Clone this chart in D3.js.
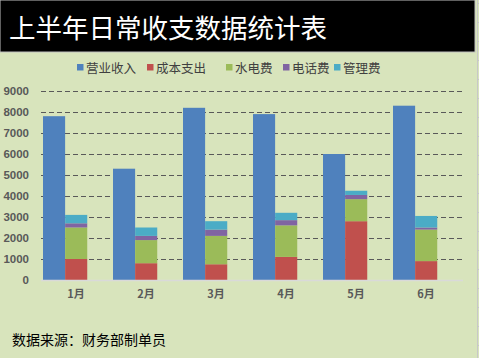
<!DOCTYPE html>
<html><head><meta charset="utf-8">
<script src="https://cdn.jsdelivr.net/npm/d3@7"></script>
<style>html,body{margin:0;padding:0;background:#D8E4BC;}svg{display:block;}</style>
</head><body>
<script>
const months = ["1月","2月","3月","4月","5月","6月"];
const income = [7800, 5300, 8200, 7900, 6000, 8300];
const cost   = [1000,  800,  750, 1100, 2800,  900];
const water  = [1500, 1100, 1350, 1500, 1050, 1500];
const phone  = [ 200,  200,  300,  250,  200,  100];
const mgmt   = [ 400,  400,  400,  350,  200,  550];
const yTicks = [0,1000,2000,3000,4000,5000,6000,7000,8000,9000];
const seriesNames = ["营业收入","成本支出","水电费","电话费","管理费"];
const colors = ["#4F81BD","#C0504D","#9BBB59","#8064A2","#4BACC6"];
const title = "上半年日常收支数据统计表";
const footer = "数据来源：财务部制单员";

const W = 479, H = 358;
const svg = d3.select("body").append("svg").attr("width", W).attr("height", H);
svg.append("rect").attr("width", W).attr("height", H).attr("fill", "#D8E4BC");

// right edge frame line with ticks
svg.append("line").attr("x1", 477.5).attr("x2", 477.5).attr("y1", 0).attr("y2", H)
  .attr("stroke", "#c8c8c8").attr("stroke-width", 1);
d3.range(0, H, 19).forEach(yy => {
  svg.append("line").attr("x1", 477.5).attr("x2", 479).attr("y1", yy + 3.5).attr("y2", yy + 3.5)
    .attr("stroke", "#c8c8c8");
});

// title bar
svg.append("rect").attr("x", 0).attr("y", 0).attr("width", 475).attr("height", 52)
  .attr("fill", "#000").attr("stroke", "#bfbfbf").attr("stroke-width", 1);
svg.append("text").attr("x", 9).attr("y", 38).text(title)
  .attr("fill", "#fff").attr("font-family", "Noto Sans CJK SC").attr("font-size", 26.5);

// legend
const legendX = [77, 147, 226, 283, 334];
seriesNames.forEach((n, i) => {
  svg.append("rect").attr("x", legendX[i]).attr("y", 64).attr("width", 6.5).attr("height", 6.5).attr("fill", colors[i]);
  svg.append("text").attr("x", legendX[i] + 9).attr("y", 72.5).text(n)
    .attr("fill", "#404040").attr("font-family", "Noto Sans CJK SC").attr("font-size", 12.5);
});

// scales
const y = d3.scaleLinear().domain([0, 9000]).range([280, 91]);
const x = d3.scaleBand().domain(months).range([41, 461]).padding(0);
const bw = x.bandwidth();

// grid
const g = svg.append("g");
yTicks.filter(t => t > 0).forEach(t => {
  g.append("line").attr("x1", 41).attr("x2", 463).attr("y1", Math.round(y(t)) + 0.5).attr("y2", Math.round(y(t)) + 0.5)
    .attr("stroke", "#595959").attr("stroke-width", 1).attr("stroke-dasharray", "5,3");
});

// y axis labels
const yAxis = d3.axisLeft(y).tickValues(yTicks).tickFormat(d3.format("d")).tickSize(0).tickPadding(0);
const ya = svg.append("g").attr("transform", "translate(29,0)").call(yAxis);
ya.select(".domain").remove();
ya.selectAll("text").attr("fill", "#595959").attr("font-family", "Liberation Sans Narrow, Liberation Sans")
  .attr("font-weight", "bold").attr("font-size", 11.5);

// bars
const barW = bw * 0.316;
const off = 2;
svg.append("g").selectAll("rect").data(months).join("rect")
  .attr("x", d => x(d) + off).attr("width", barW)
  .attr("y", (d, i) => y(income[i])).attr("height", (d, i) => y(0) - y(income[i]))
  .attr("fill", colors[0]);

const stackData = months.map((m, i) => ({ m, cost: cost[i], water: water[i], phone: phone[i], mgmt: mgmt[i] }));
const stack = d3.stack().keys(["cost","water","phone","mgmt"])(stackData);
svg.append("g").selectAll("g").data(stack).join("g").attr("fill", (d, i) => colors[i + 1])
  .selectAll("rect").data(d => d).join("rect")
  .attr("x", d => x(d.data.m) + off + barW).attr("width", barW)
  .attr("y", d => y(d[1])).attr("height", d => y(d[0]) - y(d[1]));

// baseline
svg.append("line").attr("x1", 41).attr("x2", 463).attr("y1", 280.5).attr("y2", 280.5)
  .attr("stroke", "#d9d9d9").attr("stroke-width", 1.5);

// x axis labels
const xAxis = d3.axisBottom(x).tickSize(0).tickPadding(0);
const xa = svg.append("g").attr("transform", "translate(0,288)").call(xAxis);
xa.select(".domain").remove();
xa.selectAll("text").attr("fill", "#595959").attr("font-family", "Noto Sans CJK SC")
  .attr("font-weight", "bold").attr("font-size", 11).attr("dy", "0.9em");

// footer
svg.append("text").attr("x", 12).attr("y", 345).text(footer)
  .attr("fill", "#000").attr("font-family", "Noto Sans CJK SC").attr("font-size", 14);
</script>
</body></html>
